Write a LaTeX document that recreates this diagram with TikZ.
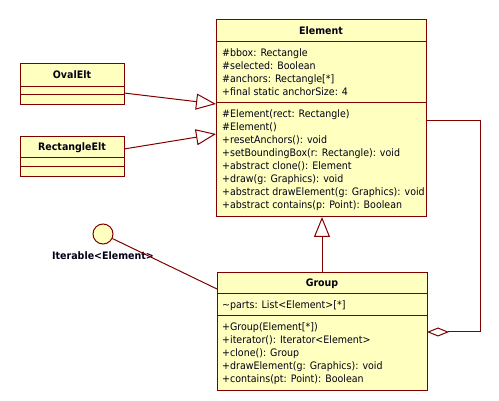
\documentclass[tikz,border=0pt]{standalone}
\usepackage{fontspec}
\setmainfont{DejaVu Sans}[FakeStretch=0.92]
\usetikzlibrary{arrows.meta}
\definecolor{umlline}{RGB}{128,0,0}
\definecolor{umlfill}{RGB}{255,255,192}
\definecolor{umltext}{RGB}{0,0,20}
\begin{document}
\begin{tikzpicture}[x=1pt,y=-1pt,
 box/.style={draw=umlline, fill=umlfill, line width=1pt, inner sep=0pt, outer sep=0pt, anchor=north west},
 sep/.style={draw=umlline, line width=1pt},
 txt/.style={anchor=base west, inner sep=0pt, text=umltext, font=\fontsize{10.3}{12}\selectfont},
 ttl/.style={anchor=base, inner sep=0pt, text=umltext, font=\fontsize{10.3}{12}\selectfont\bfseries},
 conn/.style={draw=umlline, line width=1pt},
 gen/.style={conn, -{Triangle[open, length=20pt, width=16pt]}},
 agg/.style={conn, -{Diamond[open, length=22pt, width=9pt]}}
]
\useasboundingbox (0,0) rectangle (499,401);
\fill[white] (0,0) rectangle (499,401);

% Element
\node[box, minimum width=210pt, minimum height=197pt] (element) at (216,20) {};
\draw[sep] (element.west |- 0,42) -- (element.east |- 0,42);
\draw[sep] (element.west |- 0,103) -- (element.east |- 0,103);
\node[ttl] (elTitle) at (321,35) {Element};
\node[txt] (ea1) at (222,57) {\#bbox: Rectangle};
\node[txt] (ea2) at (222,70) {\#selected: Boolean};
\node[txt] (ea3) at (222,83) {\#anchors: Rectangle[*]};
\node[txt] (ea4) at (222,96) {+final static anchorSize: 4};
\node[txt] (em1) at (222,118) {\#Element(rect: Rectangle)};
\node[txt] (em2) at (222,131) {\#Element()};
\node[txt] (em3) at (222,144) {+resetAnchors(): void};
\node[txt] (em4) at (222,157) {+setBoundingBox(r: Rectangle): void};
\node[txt] (em5) at (222,170) {+abstract clone(): Element};
\node[txt] (em6) at (222,183) {+draw(g: Graphics): void};
\node[txt] (em7) at (222,196) {+abstract drawElement(g: Graphics): void};
\node[txt] (em8) at (222,209) {+abstract contains(p: Point): Boolean};

% OvalElt
\node[box, minimum width=104pt, minimum height=41pt] (oval) at (20,64) {};
\draw[sep] (oval.west |- 0,87) -- (oval.east |- 0,87);
\draw[sep] (oval.west |- 0,95) -- (oval.east |- 0,95);
\node[ttl] (ovalTitle) at (72,79) {OvalElt};

% RectangleElt
\node[box, minimum width=104pt, minimum height=40pt] (rect) at (20,137) {};
\draw[sep] (rect.west |- 0,158) -- (rect.east |- 0,158);
\draw[sep] (rect.west |- 0,167) -- (rect.east |- 0,167);
\node[ttl] (rectTitle) at (72,151) {RectangleElt};

% Group
\node[box, minimum width=210pt, minimum height=118pt] (group) at (217,273) {};
\draw[sep] (group.west |- 0,294) -- (group.east |- 0,294);
\draw[sep] (group.west |- 0,316) -- (group.east |- 0,316);
\node[ttl] (grTitle) at (322,287) {Group};
\node[txt] (ga1) at (222,309) {\textasciitilde parts: List<Element>[*]};
\node[txt] (gm1) at (222,331) {+Group(Element[*])};
\node[txt] (gm2) at (222,344) {+iterator(): Iterator<Element>};
\node[txt] (gm3) at (222,357) {+clone(): Group};
\node[txt] (gm4) at (222,370) {+drawElement(g: Graphics): void};
\node[txt] (gm5) at (222,383) {+contains(pt: Point): Boolean};

% Interface
\node[draw=umlline, fill=umlfill, circle, minimum size=20pt, inner sep=0pt, line width=1pt] (iter) at (103,234) {};
\node[ttl] (iterLabel) at (103,260) {Iterable<Element>};

% connector end points
\coordinate (ovalOut) at (oval.east |- 0,93);
\coordinate (ovalIn) at (element.west |- 0,104);
\coordinate (rectOut) at (rect.east |- 0,149);
\coordinate (rectIn) at (element.west |- 0,134);
\coordinate (groupTop) at (322,273);
\coordinate (elemBot) at (322,217);
\coordinate (elemOut) at (element.east |- 0,121);
\coordinate (bendA) at (480,121);
\coordinate (bendB) at (480,332);
\coordinate (groupIn) at (group.east |- 0,332);
\coordinate (groupLeft) at (group.west |- 0,289);

% connectors
\draw[gen] (ovalOut) -- (ovalIn);
\draw[gen] (rectOut) -- (rectIn);
\draw[gen] (groupTop) -- (elemBot);
\draw[agg] (elemOut) -- (bendA) -- (bendB) -- (groupIn);
\draw[conn] (iter) -- (groupLeft);
\end{tikzpicture}
\end{document}
